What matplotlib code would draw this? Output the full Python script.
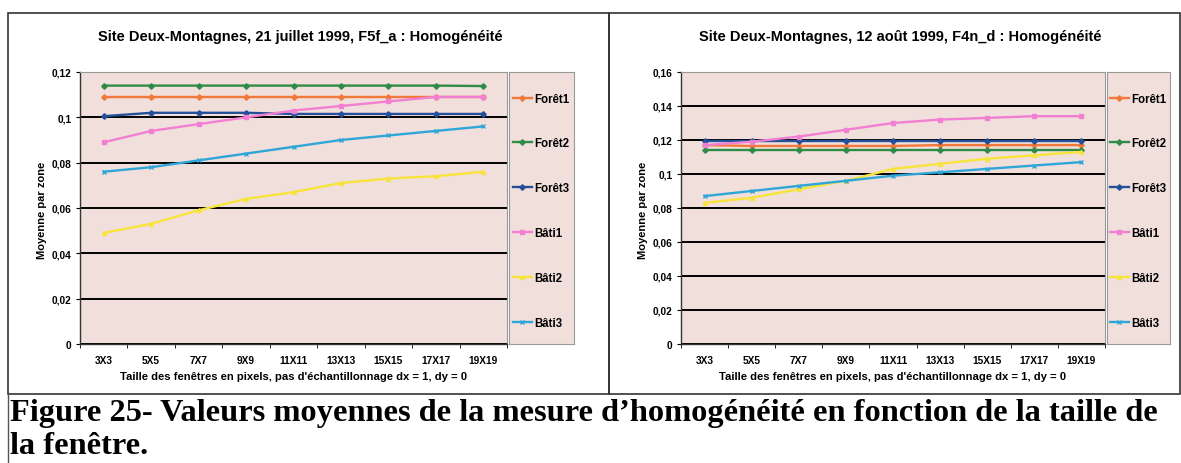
import matplotlib.pyplot as plt
from matplotlib.patches import Rectangle
from matplotlib.lines import Line2D
from matplotlib.ticker import FuncFormatter

# data
fenetres = ['3X3', '5X5', '7X7', '9X9', '11X11', '13X13', '15X15', '17X17', '19X19']
series = ['Forêt1', 'Forêt2', 'Forêt3', 'Bâti1', 'Bâti2', 'Bâti3']

# site Deux-Montagnes, 21 juillet 1999
juillet_foret1 = [0.109, 0.109, 0.109, 0.109, 0.109, 0.109, 0.109, 0.109, 0.109]
juillet_foret2 = [0.114, 0.114, 0.114, 0.114, 0.114, 0.114, 0.114, 0.114, 0.1138]
juillet_foret3 = [0.1005, 0.102, 0.102, 0.102, 0.1015, 0.1015, 0.1015, 0.1015, 0.1015]
juillet_bati1 = [0.089, 0.094, 0.097, 0.100, 0.103, 0.105, 0.107, 0.109, 0.109]
juillet_bati2 = [0.049, 0.053, 0.059, 0.064, 0.067, 0.071, 0.073, 0.074, 0.076]
juillet_bati3 = [0.076, 0.078, 0.081, 0.084, 0.087, 0.090, 0.092, 0.094, 0.096]

# site Deux-Montagnes, 12 aout 1999
aout_foret1 = [0.117, 0.1165, 0.1165, 0.1165, 0.1165, 0.117, 0.117, 0.117, 0.117]
aout_foret2 = [0.114, 0.114, 0.114, 0.114, 0.114, 0.114, 0.114, 0.114, 0.114]
aout_foret3 = [0.1195, 0.1195, 0.1195, 0.1195, 0.1195, 0.1195, 0.1195, 0.1195, 0.1195]
aout_bati1 = [0.117, 0.119, 0.122, 0.126, 0.130, 0.132, 0.133, 0.134, 0.134]
aout_bati2 = [0.083, 0.086, 0.091, 0.096, 0.103, 0.106, 0.109, 0.111, 0.113]
aout_bati3 = [0.087, 0.090, 0.093, 0.096, 0.099, 0.101, 0.103, 0.105, 0.107]

couleurs = ['#f07a3c', '#2f8c48', '#24509a', '#f27fd2', '#f7e43a', '#2ea6d8']
marqueurs = ['D', 'D', 'D', 's', '^', 'x']
fond = '#f1dfdb'

W, H = 1181, 464
fig = plt.figure(figsize=(W / 100, H / 100), dpi=100)
plt.rcParams['font.family'] = ['Liberation Sans', 'DejaVu Sans']


def px(x0, y0, x1, y1):
    # pixel box (top-left origin) -> figure fraction
    return [x0 / W, 1 - y1 / H, (x1 - x0) / W, (y1 - y0) / H]


def virgule(v, pos):
    return ('%g' % v).replace('.', ',')


def panneau(box, leg_box, valeurs, ymax, titre, title_xy, ylab_x):
    ax = fig.add_axes(px(*box))
    ax.set_facecolor(fond)
    x = list(range(1, len(fenetres) + 1))
    for i, vals in enumerate(valeurs):
        ax.plot(x, vals, color=couleurs[i], lw=1.7, marker=marqueurs[i],
                ms=2.8, mew=1.0, zorder=3)
    ax.set_xlim(0.5, len(fenetres) + 0.5)
    ax.set_ylim(0, ymax)
    ax.set_yticks([k * 0.02 for k in range(int(round(ymax / 0.02)) + 1)])
    ax.yaxis.set_major_formatter(FuncFormatter(virgule))
    ax.set_xticks(x)
    ax.set_xticklabels(fenetres)
    ax.set_xticks([k + 0.5 for k in range(len(fenetres) + 1)], minor=True)
    ax.tick_params(axis='x', which='major', length=0, pad=8, labelsize=7.3)
    ax.tick_params(axis='x', which='minor', length=3, direction='out')
    ax.tick_params(axis='y', length=3, direction='out', labelsize=7.3, pad=3)
    for lab in ax.get_xticklabels() + ax.get_yticklabels():
        lab.set_fontweight('bold')
    ax.grid(axis='y', color='black', lw=1.4, zorder=1)
    for s in ['top', 'right']:
        ax.spines[s].set_color('#999999')
        ax.spines[s].set_linewidth(0.8)
    for s in ['left', 'bottom']:
        ax.spines[s].set_color('#333333')
        ax.spines[s].set_linewidth(1.0)
    ax.set_xlabel("Taille des fenêtres en pixels, pas d'échantillonnage dx = 1, dy = 0",
                  fontsize=8.1, fontweight='bold', labelpad=4)
    fig.text(ylab_x / W, 1 - 210 / H, 'Moyenne par zone', rotation=90,
             fontsize=8, fontweight='bold', ha='center', va='center')
    fig.text(title_xy[0] / W, 1 - title_xy[1] / H, titre, fontsize=10.5,
             fontweight='bold', ha='center', va='center')

    lg = fig.add_axes(px(*leg_box))
    lg.set_facecolor(fond)
    lg.set_xticks([])
    lg.set_yticks([])
    for s in lg.spines.values():
        s.set_color('#999999')
        s.set_linewidth(0.8)
    handles = [Line2D([], [], color=couleurs[i], lw=1.7, marker=marqueurs[i],
                      ms=2.8, mew=1.0) for i in range(len(series))]
    lg.legend(handles, series, loc='center', frameon=False,
              labelspacing=2.85, handlelength=1.6, handletextpad=0.25,
              prop={'size': 8.3, 'weight': 'bold'},
              bbox_to_anchor=(0.5, 0.49))
    return ax


panneau((80, 73, 507, 345), (509, 73, 574, 345),
        [juillet_foret1, juillet_foret2, juillet_foret3,
         juillet_bati1, juillet_bati2, juillet_bati3],
        0.12, 'Site Deux-Montagnes, 21 juillet 1999, F5f_a : Homogénéité',
        (300, 37), 42)
panneau((681, 73, 1105, 345), (1107, 73, 1170, 345),
        [aout_foret1, aout_foret2, aout_foret3,
         aout_bati1, aout_bati2, aout_bati3],
        0.16, 'Site Deux-Montagnes, 12 août 1999, F4n_d : Homogénéité',
        (900, 37), 643)

# panel frames and caption separator
for x0, x1 in [(8, 609), (609, 1180)]:
    fig.patches.append(Rectangle((x0 / W, 1 - 395 / H), (x1 - x0) / W, 381 / H,
                                 transform=fig.transFigure, fill=False,
                                 edgecolor='#333333', lw=1.2))
fig.add_artist(Line2D([8 / W, 8 / W], [0, 1 - 395 / H], color='#555555', lw=1))

fig.text(10 / W, 1 - 414 / H,
         "Figure 25- Valeurs moyennes de la mesure d\u2019homogénéité en fonction de la taille de",
         family='Liberation Serif', fontweight='bold', fontsize=23.3, va='center')
fig.text(10 / W, 1 - 447 / H, 'la fenêtre.',
         family='Liberation Serif', fontweight='bold', fontsize=23.3, va='center')

fig.savefig('out.png', dpi=100, facecolor='white')
